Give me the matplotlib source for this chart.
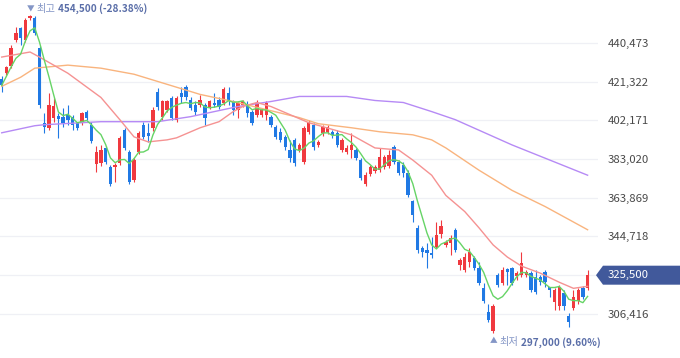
import numpy as np
import pandas as pd
import matplotlib
matplotlib.use("Agg")
import matplotlib.pyplot as plt
from matplotlib.patches import Polygon
from matplotlib.transforms import IdentityTransform

# 일봉 데이터 (원)
opens = [422500, 425500, 429000, 442000, 448000, 442000, 453000, 453000, 438000, 401000,
         398500, 403500, 404500, 404000, 405000, 404000, 401000, 401000, 406500, 400000,
         380500, 381000, 388500, 379000, 379000, 381000, 397500, 386500, 372500, 386500,
         400000, 396000, 398500, 416000, 404000, 407500, 413000, 402500, 415500, 418500,
         412000, 410000, 410000, 410000, 409000, 411000, 412000, 411000, 415500, 411500,
         407500, 410000, 410000, 406500, 405000, 405000, 405000, 404000, 399000, 396500,
         394000, 387500, 392500, 387500, 381500, 396500, 400000, 390000, 396000, 396500,
         396500, 396000, 387500, 386500, 387500, 387500, 382500, 370500, 375500, 377000,
         377500, 379000, 379500, 389000, 381500, 380000, 376000, 362000, 349000, 339000,
         338000, 336500, 339500, 346000, 340500, 341500, 348000, 330500, 328000, 332000,
         334000, 329000, 319000, 307500, 298000, 325500, 321500, 328500, 329000, 325000,
         325500, 325500, 326500, 324500, 324500, 327000, 319500, 312000, 310000, 316500,
         305500, 309500, 312500, 319000, 319000]
highs = [424000, 429000, 439500, 448500, 448500, 453000, 454500, 454000, 439000, 406000,
         415500, 413000, 406000, 408500, 410000, 405000, 401500, 406500, 407500, 401500,
         389500, 390000, 389500, 380000, 381000, 394500, 398500, 387500, 383500, 397000,
         401500, 401000, 409000, 418000, 412000, 412000, 414000, 414000, 418500, 419500,
         413500, 411500, 414500, 411000, 412000, 415500, 413500, 418500, 418500, 412000,
         411500, 412000, 411500, 407500, 412000, 408500, 411500, 405000, 400000, 398500,
         395000, 392500, 393500, 391000, 399500, 402500, 401000, 392500, 400000, 400000,
         397500, 397500, 393500, 390000, 396000, 388500, 383500, 376500, 380000, 380000,
         388500, 385000, 387500, 390000, 382500, 381500, 377500, 362500, 350500, 340000,
         341500, 344500, 352000, 353000, 343000, 345500, 349000, 334000, 336500, 339000,
         335000, 332000, 321500, 311000, 311000, 326500, 329500, 329000, 329500, 327500,
         337000, 328000, 327500, 328000, 325500, 328000, 319500, 319000, 320500, 318000,
         307000, 318000, 319000, 320000, 328000]
lows = [416000, 424500, 428000, 441000, 439500, 441000, 452000, 444500, 408500, 396000,
        397500, 401500, 393500, 399000, 400000, 397500, 397500, 400000, 402500, 391000,
        376500, 379500, 380500, 369500, 371500, 380000, 387500, 370500, 371500, 385500,
        393000, 391500, 397000, 407500, 402500, 406500, 402500, 401500, 411000, 412000,
        407500, 405000, 409000, 400000, 408000, 409000, 408000, 410000, 410000, 405000,
        403500, 409000, 404000, 400000, 404000, 404000, 402500, 399000, 393000, 391500,
        387500, 381500, 379500, 386500, 380500, 395500, 387500, 389000, 394500, 395500,
        393500, 389000, 386500, 385500, 383500, 382500, 372500, 369500, 374500, 376000,
        376500, 378000, 378500, 380500, 375000, 374000, 364000, 352000, 336500, 334500,
        329000, 334000, 339000, 344000, 339500, 335500, 337000, 328000, 327000, 329500,
        328000, 320500, 311500, 302500, 297000, 319500, 320500, 320500, 320500, 323000,
        324500, 324500, 317000, 316000, 320500, 319500, 314500, 308500, 308500, 308500,
        300000, 308500, 311000, 313500, 318000]
closes = [419500, 428500, 438000, 445500, 443000, 452000, 454000, 445500, 410000, 399000,
          410000, 409500, 403000, 401000, 402500, 400000, 398500, 406000, 403500, 392000,
          386500, 387500, 381500, 370500, 380000, 393500, 388500, 371500, 382500, 396000,
          394000, 394500, 407500, 409000, 411500, 411500, 403500, 413000, 413500, 413500,
          408500, 406500, 412000, 403500, 411500, 410000, 409000, 417500, 411500, 407500,
          411000, 411500, 406000, 401000, 411000, 407500, 411000, 400000, 394000, 392500,
          389000, 383500, 381000, 390000, 398500, 401500, 389000, 391500, 399000, 399000,
          395000, 390000, 392500, 388500, 390000, 383500, 373500, 375000, 379000, 379000,
          384000, 384000, 385000, 381500, 376000, 376000, 365000, 355500, 338000, 337000,
          336500, 335500, 345500, 350000, 342000, 344000, 338000, 333000, 334500, 337000,
          329000, 321500, 312500, 303500, 310000, 320500, 328000, 327000, 321500, 326500,
          331500, 327000, 318000, 317000, 322000, 322000, 318000, 318000, 319500, 310000,
          302500, 314500, 318000, 314500, 325500]

# 이동평균선 (차트에서 읽은 값, 봉 위치 기준)
ma20_idx = [0, 6, 8, 14, 21, 25, 28, 31, 35, 37, 42, 46, 49, 51, 54, 57, 61, 65, 74, 79,
            84, 87, 91, 94, 98, 101, 104, 107, 110, 114, 118, 121, 124]
ma20_val = [433500, 436000, 433500, 425500, 413500, 402500, 394000, 391500, 392500, 393500,
            398500, 401500, 406500, 409000, 411000, 409000, 405000, 401000, 395000, 388500,
            387500, 382500, 375000, 365000, 357000, 349000, 340500, 334500, 330000, 326500,
            322000, 319000, 320000]
ma60_idx = [0, 4, 7, 14, 21, 28, 35, 42, 49, 56, 63, 67, 74, 80, 87, 91, 94, 101, 108, 115, 124]
ma60_val = [419000, 423500, 428000, 429500, 428000, 425000, 420000, 415000, 411500, 407500,
            403500, 400500, 398500, 396500, 395000, 392500, 388500, 377500, 367500, 359500, 348000]
ma120_idx = [0, 7, 9, 21, 27, 33, 40, 45, 50, 57, 63, 73, 79, 85, 91, 96, 108, 124]
ma120_val = [396000, 399500, 400000, 401500, 401500, 401500, 404000, 406500, 409000, 411500,
             414000, 414000, 412000, 411000, 406500, 402500, 390000, 375000]

y_ticks = [306416, 325567, 344718, 363869, 383020, 402171, 421322, 440473]

UP = '#f0393f'
DOWN = '#2079e4'
FONT = ['Noto Sans CJK KR', 'DejaVu Sans']
plt.rcParams['font.family'] = FONT

fig = plt.figure(figsize=(6.8, 3.58), dpi=100)
ax = fig.add_axes([0, 0, 598 / 680, 1])

o = np.array(opens)
h = np.array(highs)
l = np.array(lows)
c = np.array(closes)
x = np.arange(len(c))
colors = np.where(c >= o, UP, DOWN)

ax.vlines(x, l, h, colors=colors, linewidth=0.8, zorder=2)
body_lo = np.minimum(o, c)
body_h = np.maximum(np.abs(c - o), 800)
ax.bar(x, body_h, bottom=body_lo, width=0.7, color=colors, linewidth=0, zorder=3)

ma5 = pd.Series(c).rolling(5, min_periods=1).mean()
ax.plot(ma120_idx, ma120_val, color='#b68af5', lw=1.0, zorder=4)
ax.plot(ma60_idx, ma60_val, color='#f9b47e', lw=1.0, zorder=4)
ax.plot(ma20_idx, ma20_val, color='#f59292', lw=1.0, zorder=4)
ax.plot(x, ma5, color='#66d466', lw=1.0, zorder=5)

ax.set_xlim(-0.36, 126.2)
ax.set_ylim(284500, 461750)
ax.set_xticks([])
ax.set_yticks(y_ticks)
ax.set_yticklabels([f'{t:,}' for t in y_ticks])
ax.yaxis.tick_right()
ax.tick_params(axis='y', length=0, pad=7, labelsize=8.2, labelcolor='#4a4a4a')
for s in ax.spines.values():
    s.set_visible(False)
ax.grid(axis='y', color='#eff0f5', linewidth=0.9)
ax.set_axisbelow(True)

# 최고 / 최저 표시
i_hi = int(np.argmax(h))
i_lo = int(np.argmin(l))
last = c[-1]
hi_pct = (last - h[i_hi]) / h[i_hi] * 100
lo_pct = (last - l[i_lo]) / l[i_lo] * 100
LBL = '#8496c6'
VAL = '#5a6ea8'

t1 = ax.annotate('▼', xy=(i_hi, h[i_hi]), xytext=(-3, 1), textcoords='offset pixels',
                 ha='left', va='bottom', fontsize=5.5, color=LBL)
t2 = ax.annotate('최고', xy=(1, 0), xycoords=t1, xytext=(2, 0), textcoords='offset pixels',
                 ha='left', va='bottom', fontsize=7.4, color=LBL)
ax.annotate(f'{h[i_hi]:,} ({hi_pct:.2f}%)', xy=(1, 0), xycoords=t2, xytext=(2, 0),
            textcoords='offset pixels', ha='left', va='bottom',
            fontsize=7.2, color=VAL, fontweight='bold')

b1 = ax.annotate('▲', xy=(i_lo, l[i_lo]), xytext=(-3, -4), textcoords='offset pixels',
                 ha='left', va='top', fontsize=5.5, color=LBL)
b2 = ax.annotate('최저', xy=(1, 1), xycoords=b1, xytext=(2, 0), textcoords='offset pixels',
                 ha='left', va='top', fontsize=7.4, color=LBL)
ax.annotate(f'{l[i_lo]:,} ({lo_pct:.2f}%)', xy=(1, 1), xycoords=b2, xytext=(2, 0),
            textcoords='offset pixels', ha='left', va='top',
            fontsize=7.2, color=VAL, fontweight='bold')

# 현재가 라벨
fig.canvas.draw()
W = fig.bbox.width
yd = ax.transData.transform((0, last))[1]
x_ax = ax.bbox.x1
tag = Polygon([(x_ax - 2, yd), (x_ax + 5, yd + 9.5), (W, yd + 9.5), (W, yd - 9.5), (x_ax + 5, yd - 9.5)],
              closed=True, facecolor='#41599b', edgecolor='none', transform=IdentityTransform())
fig.add_artist(tag)
fig.text(x_ax + 10, yd, f'{last:,}', transform=IdentityTransform(), ha='left', va='center',
         fontsize=8.2, color='white')

fig.savefig('out.png', dpi=100)
